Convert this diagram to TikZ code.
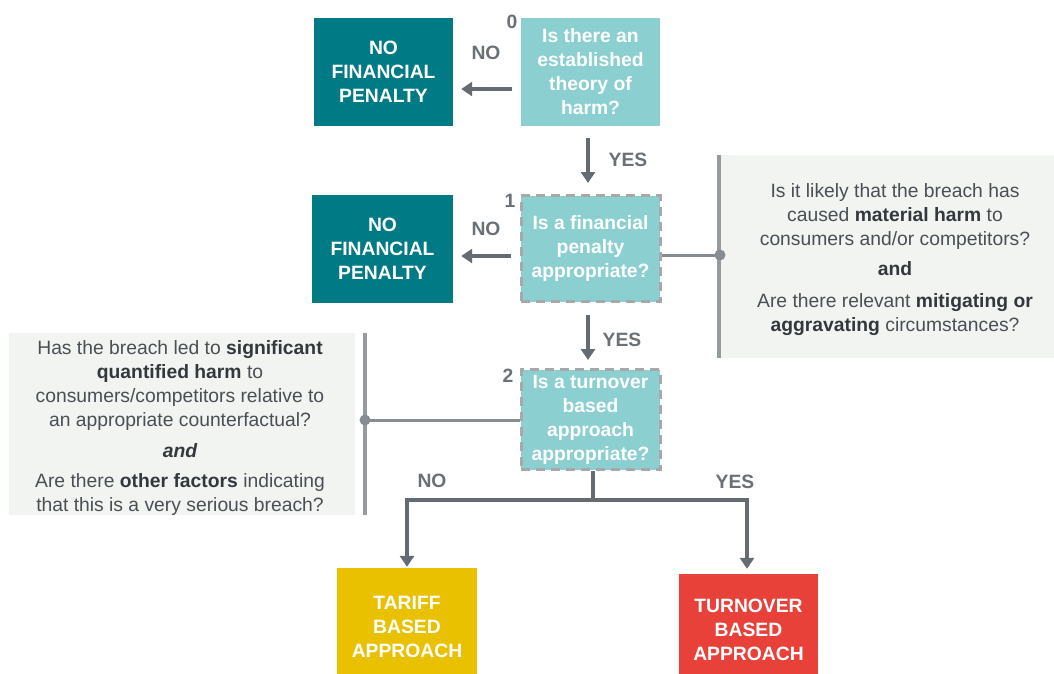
\documentclass[tikz,border=0pt]{standalone}
\usepackage{fontspec}
\setmainfont{Liberation Sans}
\usetikzlibrary{arrows.meta}

\definecolor{qfill}{HTML}{8BCFD0}
\definecolor{tealbox}{HTML}{007A85}
\definecolor{tariffc}{HTML}{EAC100}
\definecolor{turnc}{HTML}{E8413A}
\definecolor{panelc}{HTML}{F2F4F2}
\definecolor{arrowc}{HTML}{646B72}
\definecolor{labelc}{HTML}{6B7075}
\definecolor{dashc}{HTML}{A6A8AA}
\definecolor{barc}{HTML}{959A9E}
\definecolor{linkc}{HTML}{868C91}
\definecolor{notec}{HTML}{4A4F54}
\definecolor{noteb}{HTML}{33383C}

\newcommand\mainsize{\fontsize{19.3}{24}\selectfont}
\newcommand\hl[1]{{\bfseries\color{noteb}#1}}

\begin{document}
\begin{tikzpicture}[x=1pt,y=-1pt,
  box/.style={rectangle, inner sep=0pt, align=center, text=white,
    font=\mainsize\bfseries},
  question/.style={box, fill=qfill, minimum width=139pt},
  dashq/.style={question, draw=dashc, line width=3pt, dash pattern=on 9pt off 6pt},
  outcome/.style={box, minimum width=140pt},
  panel/.style={rectangle, fill=panelc, inner sep=0pt},
  note/.style={align=center, text=notec, font=\mainsize, inner sep=0pt},
  lbl/.style={text=labelc, font=\mainsize\bfseries, inner sep=0pt},
  arr/.style={draw=arrowc, line width=4.3pt, -{Triangle[width=14pt,length=11pt]}},
  stem/.style={draw=arrowc, line width=4.3pt},
  link/.style={draw=linkc, line width=3pt},
  bar/.style={draw=barc, line width=3.5pt},
  dot/.style={fill=linkc}
]
\useasboundingbox (0,0) rectangle (1054,673);
\clip (0,0) rectangle (1054,673);

% decision boxes
\node[question, minimum height=108pt] (q0) at (590.5,72)
  {Is there an\\established\\theory of\\harm?};
\node[dashq, minimum height=106pt] (q1) at (590.5,248.5)
  {Is a financial\\penalty\\appropriate?};
\node[dashq, minimum height=100pt] (q2) at (590.5,419.5)
  {Is a turnover\\based\\approach\\appropriate?};

% outcomes
\node[outcome, fill=tealbox, minimum width=139pt, minimum height=108pt] (nfp0) at (383.5,72)
  {NO\\FINANCIAL\\PENALTY};
\node[outcome, fill=tealbox, minimum width=141pt, minimum height=108pt] (nfp1) at (382.5,249)
  {NO\\FINANCIAL\\PENALTY};
\node[outcome, fill=tariffc, minimum height=118pt] (tariff) at (407,627)
  {TARIFF\\BASED\\APPROACH};
\node[outcome, fill=turnc, minimum width=139pt, minimum height=112pt] (turn) at (748.5,630)
  {TURNOVER\\BASED\\APPROACH};

% step numbers
\node[lbl] (n0) at (512,22) {0};
\node[lbl] (n1) at (510,201) {1};
\node[lbl] (n2) at (508,376) {2};

% side panels with criteria
\node[panel, minimum width=335pt, minimum height=203pt] (pR) at (886.5,256.5) {};
\draw[bar] (pR.north west) -- (pR.south west);
\node[note] (tR) at (895,260)
  {Is it likely that the breach has\\
   caused \hl{material harm} to\\
   consumers and/or competitors?\\[6pt]
   \hl{and}\\[8pt]
   Are there relevant \hl{mitigating or}\\
   \hl{aggravating} circumstances?};

\node[panel, minimum width=346pt, minimum height=182pt] (pL) at (182,424) {};
\coordinate (barTop) at (365,333);
\coordinate (barBot) at (365,515);
\draw[bar] (barTop) -- (barBot);
\node[note] (tL) at (180,427.5)
  {Has the breach led to \hl{significant}\\
   \hl{quantified harm} to\\
   consumers/competitors relative to\\
   an appropriate counterfactual?\\[7pt]
   \hl{\itshape and}\\[6pt]
   Are there \hl{other factors} indicating\\
   that this is a very serious breach?};

% links from the panels into the decisions
\coordinate (dotR) at (720,255);
\coordinate (dotL) at (365,420);
\draw[link] (q1.east |- dotR) -- (dotR);
\draw[link] (dotL) -- (q2.west |- dotL);
\fill[dot] (dotR) circle (5.5);
\fill[dot] (dotL) circle (5.5);

% NO branches
\coordinate (no0) at (0,89);
\coordinate (no1) at (0,256);
\draw[arr, shorten <=9pt, shorten >=8pt] (q0.west |- no0) -- (nfp0.east |- no0);
\draw[arr, shorten <=9pt, shorten >=8pt] (q1.west |- no1) -- (nfp1.east |- no1);
\node[lbl] (lno0) at (486,53) {NO};
\node[lbl] (lno1) at (486,229) {NO};

% YES branches
\draw[arr, shorten <=12pt, shorten >=11pt] ([xshift=-2.5pt]q0.south) -- ([xshift=-2.5pt]q1.north);
\draw[arr, shorten <=12pt, shorten >=8pt] ([xshift=-2.5pt]q1.south) -- ([xshift=-2.5pt]q2.north);
\node[lbl] (lyes0) at (628,160) {YES};
\node[lbl] (lyes1) at (622,340) {YES};

% final split
\coordinate (split) at (593,500);
\draw[stem] (q2.south -| split) -- (split);
\draw[arr, shorten >=1pt] (split) -| (tariff.north);
\draw[arr, shorten >=5pt] (split) -| ([xshift=-1.5pt]turn.north);
\node[lbl] (lno2) at (432,481) {NO};
\node[lbl] (lyes2) at (735,482) {YES};
\end{tikzpicture}
\end{document}
